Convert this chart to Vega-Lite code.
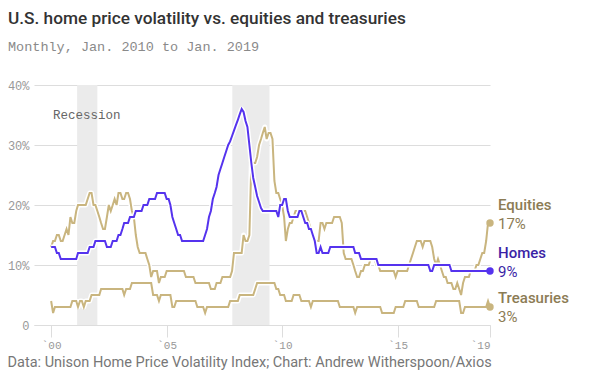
{
"$schema": "https://vega.github.io/schema/vega-lite/v6.json",
"width": 456, "height": 240,
"autosize": "none",
"padding": {"left": 34, "top": 85, "right": 108, "bottom": 62},
"background": "white",
"title": {"text": "U.S. home price volatility vs. equities and treasuries", "subtitle": "Monthly, Jan. 2010 to Jan. 2019", "anchor": "start", "frame": "group", "dx": -26, "offset": 26, "font": "Roboto", "fontSize": 17.25, "fontWeight": 500, "color": "#333333", "subtitleFont": "Liberation Mono", "subtitleFontSize": 13.5, "subtitleColor": "#8a8a8a", "subtitlePadding": 12},
"config": {"view": {"stroke": null}},
"datasets": {
"homes": [
{"d":"2000-01","v":13},{"d":"2000-02","v":13},{"d":"2000-03","v":13},{"d":"2000-04","v":12},{"d":"2000-05","v":12},{"d":"2000-06","v":11},{"d":"2000-07","v":11},{"d":"2000-08","v":11},{"d":"2000-09","v":11},{"d":"2000-10","v":11},{"d":"2000-11","v":11},{"d":"2000-12","v":11},
{"d":"2001-01","v":11},{"d":"2001-02","v":11},{"d":"2001-03","v":12},{"d":"2001-04","v":12},{"d":"2001-05","v":12},{"d":"2001-06","v":12},{"d":"2001-07","v":12},{"d":"2001-08","v":12},{"d":"2001-09","v":13},{"d":"2001-10","v":13},{"d":"2001-11","v":13},{"d":"2001-12","v":14},
{"d":"2002-01","v":14},{"d":"2002-02","v":14},{"d":"2002-03","v":14},{"d":"2002-04","v":14},{"d":"2002-05","v":14},{"d":"2002-06","v":13},{"d":"2002-07","v":13},{"d":"2002-08","v":13},{"d":"2002-09","v":14},{"d":"2002-10","v":14},{"d":"2002-11","v":14},{"d":"2002-12","v":15},
{"d":"2003-01","v":15},{"d":"2003-02","v":16},{"d":"2003-03","v":17},{"d":"2003-04","v":17},{"d":"2003-05","v":17},{"d":"2003-06","v":18},{"d":"2003-07","v":18},{"d":"2003-08","v":18},{"d":"2003-09","v":19},{"d":"2003-10","v":19},{"d":"2003-11","v":19},{"d":"2003-12","v":19},
{"d":"2004-01","v":20},{"d":"2004-02","v":20},{"d":"2004-03","v":20},{"d":"2004-04","v":21},{"d":"2004-05","v":21},{"d":"2004-06","v":21},{"d":"2004-07","v":21},{"d":"2004-08","v":22},{"d":"2004-09","v":22},{"d":"2004-10","v":22},{"d":"2004-11","v":22},{"d":"2004-12","v":22},
{"d":"2005-01","v":21},{"d":"2005-02","v":21},{"d":"2005-03","v":20},{"d":"2005-04","v":18},{"d":"2005-05","v":17},{"d":"2005-06","v":16},{"d":"2005-07","v":15},{"d":"2005-08","v":15},{"d":"2005-09","v":14},{"d":"2005-10","v":14},{"d":"2005-11","v":14},{"d":"2005-12","v":14},
{"d":"2006-01","v":14},{"d":"2006-02","v":14},{"d":"2006-03","v":14},{"d":"2006-04","v":14},{"d":"2006-05","v":14},{"d":"2006-06","v":14},{"d":"2006-07","v":14},{"d":"2006-08","v":14},{"d":"2006-09","v":15},{"d":"2006-10","v":16},{"d":"2006-11","v":18},{"d":"2006-12","v":19},
{"d":"2007-01","v":21},{"d":"2007-02","v":22},{"d":"2007-03","v":23},{"d":"2007-04","v":25},{"d":"2007-05","v":26},{"d":"2007-06","v":27},{"d":"2007-07","v":28},{"d":"2007-08","v":29},{"d":"2007-09","v":30},{"d":"2007-10","v":30.6},{"d":"2007-11","v":31.5},{"d":"2007-12","v":32.4},
{"d":"2008-01","v":33.3},{"d":"2008-02","v":34.2},{"d":"2008-03","v":35.1},{"d":"2008-04","v":36},{"d":"2008-05","v":35.5},{"d":"2008-06","v":34},{"d":"2008-07","v":33},{"d":"2008-08","v":30},{"d":"2008-09","v":27},{"d":"2008-10","v":24.5},{"d":"2008-11","v":23},{"d":"2008-12","v":21.5},
{"d":"2009-01","v":20.5},{"d":"2009-02","v":19.5},{"d":"2009-03","v":19},{"d":"2009-04","v":19},{"d":"2009-05","v":19},{"d":"2009-06","v":19},{"d":"2009-07","v":19},{"d":"2009-08","v":19},{"d":"2009-09","v":19},{"d":"2009-10","v":19},{"d":"2009-11","v":18},{"d":"2009-12","v":20},
{"d":"2010-01","v":20},{"d":"2010-02","v":21},{"d":"2010-03","v":21},{"d":"2010-04","v":19},{"d":"2010-05","v":18},{"d":"2010-06","v":18},{"d":"2010-07","v":18},{"d":"2010-08","v":18},{"d":"2010-09","v":18},{"d":"2010-10","v":19},{"d":"2010-11","v":19},{"d":"2010-12","v":18},
{"d":"2011-01","v":17},{"d":"2011-02","v":17},{"d":"2011-03","v":16},{"d":"2011-04","v":16},{"d":"2011-05","v":15},{"d":"2011-06","v":14},{"d":"2011-07","v":12},{"d":"2011-08","v":12},{"d":"2011-09","v":13},{"d":"2011-10","v":12},{"d":"2011-11","v":12},{"d":"2011-12","v":12},
{"d":"2012-01","v":12},{"d":"2012-02","v":13},{"d":"2012-03","v":13},{"d":"2012-04","v":13},{"d":"2012-05","v":13},{"d":"2012-06","v":13},{"d":"2012-07","v":13},{"d":"2012-08","v":13},{"d":"2012-09","v":13},{"d":"2012-10","v":13},{"d":"2012-11","v":13},{"d":"2012-12","v":13},
{"d":"2013-01","v":13},{"d":"2013-02","v":13},{"d":"2013-03","v":12},{"d":"2013-04","v":12},{"d":"2013-05","v":12},{"d":"2013-06","v":11},{"d":"2013-07","v":11},{"d":"2013-08","v":11},{"d":"2013-09","v":11},{"d":"2013-10","v":11},{"d":"2013-11","v":11},{"d":"2013-12","v":11},
{"d":"2014-01","v":11},{"d":"2014-02","v":11},{"d":"2014-03","v":10},{"d":"2014-04","v":10},{"d":"2014-05","v":10},{"d":"2014-06","v":10},{"d":"2014-07","v":10},{"d":"2014-08","v":10},{"d":"2014-09","v":10},{"d":"2014-10","v":10},{"d":"2014-11","v":10},{"d":"2014-12","v":10},
{"d":"2015-01","v":10},{"d":"2015-02","v":10},{"d":"2015-03","v":10},{"d":"2015-04","v":10},{"d":"2015-05","v":10},{"d":"2015-06","v":10},{"d":"2015-07","v":10},{"d":"2015-08","v":10},{"d":"2015-09","v":10},{"d":"2015-10","v":10},{"d":"2015-11","v":10},{"d":"2015-12","v":10},
{"d":"2016-01","v":10},{"d":"2016-02","v":10},{"d":"2016-03","v":10},{"d":"2016-04","v":10},{"d":"2016-05","v":10},{"d":"2016-06","v":9},{"d":"2016-07","v":9},{"d":"2016-08","v":10},{"d":"2016-09","v":10},{"d":"2016-10","v":10},{"d":"2016-11","v":10},{"d":"2016-12","v":10},
{"d":"2017-01","v":10},{"d":"2017-02","v":10},{"d":"2017-03","v":10},{"d":"2017-04","v":10},{"d":"2017-05","v":9},{"d":"2017-06","v":9},{"d":"2017-07","v":9},{"d":"2017-08","v":9},{"d":"2017-09","v":9},{"d":"2017-10","v":9},{"d":"2017-11","v":9},{"d":"2017-12","v":9},
{"d":"2018-01","v":9},{"d":"2018-02","v":9},{"d":"2018-03","v":9},{"d":"2018-04","v":9},{"d":"2018-05","v":9},{"d":"2018-06","v":9},{"d":"2018-07","v":9},{"d":"2018-08","v":9},{"d":"2018-09","v":9},{"d":"2018-10","v":9},{"d":"2018-11","v":9},{"d":"2018-12","v":9},
{"d":"2019-01","v":9}
],
"equities": [
{"d":"2000-01","v":13},{"d":"2000-02","v":14},{"d":"2000-03","v":14},{"d":"2000-04","v":15},{"d":"2000-05","v":15},{"d":"2000-06","v":14},{"d":"2000-07","v":14},{"d":"2000-08","v":15},{"d":"2000-09","v":16},{"d":"2000-10","v":15},{"d":"2000-11","v":18},{"d":"2000-12","v":17},
{"d":"2001-01","v":17},{"d":"2001-02","v":19},{"d":"2001-03","v":20},{"d":"2001-04","v":20},{"d":"2001-05","v":20},{"d":"2001-06","v":20},{"d":"2001-07","v":20},{"d":"2001-08","v":21},{"d":"2001-09","v":22},{"d":"2001-10","v":22},{"d":"2001-11","v":20},{"d":"2001-12","v":20},
{"d":"2002-01","v":19},{"d":"2002-02","v":18},{"d":"2002-03","v":17},{"d":"2002-04","v":16},{"d":"2002-05","v":16},{"d":"2002-06","v":18},{"d":"2002-07","v":20},{"d":"2002-08","v":19},{"d":"2002-09","v":20},{"d":"2002-10","v":21},{"d":"2002-11","v":20},{"d":"2002-12","v":22},
{"d":"2003-01","v":22},{"d":"2003-02","v":21},{"d":"2003-03","v":21},{"d":"2003-04","v":22},{"d":"2003-05","v":22},{"d":"2003-06","v":21},{"d":"2003-07","v":19},{"d":"2003-08","v":18},{"d":"2003-09","v":15},{"d":"2003-10","v":13},{"d":"2003-11","v":12},{"d":"2003-12","v":12},
{"d":"2004-01","v":12},{"d":"2004-02","v":12},{"d":"2004-03","v":11},{"d":"2004-04","v":10},{"d":"2004-05","v":8},{"d":"2004-06","v":9},{"d":"2004-07","v":9},{"d":"2004-08","v":9},{"d":"2004-09","v":7},{"d":"2004-10","v":8},{"d":"2004-11","v":8},{"d":"2004-12","v":8},
{"d":"2005-01","v":9},{"d":"2005-02","v":9},{"d":"2005-03","v":9},{"d":"2005-04","v":9},{"d":"2005-05","v":9},{"d":"2005-06","v":9},{"d":"2005-07","v":9},{"d":"2005-08","v":9},{"d":"2005-09","v":9},{"d":"2005-10","v":9},{"d":"2005-11","v":8},{"d":"2005-12","v":8},
{"d":"2006-01","v":8},{"d":"2006-02","v":8},{"d":"2006-03","v":8},{"d":"2006-04","v":7},{"d":"2006-05","v":7},{"d":"2006-06","v":7},{"d":"2006-07","v":7},{"d":"2006-08","v":7},{"d":"2006-09","v":7},{"d":"2006-10","v":7},{"d":"2006-11","v":7},{"d":"2006-12","v":6},
{"d":"2007-01","v":6},{"d":"2007-02","v":6},{"d":"2007-03","v":7},{"d":"2007-04","v":7},{"d":"2007-05","v":7},{"d":"2007-06","v":8},{"d":"2007-07","v":8},{"d":"2007-08","v":8},{"d":"2007-09","v":8},{"d":"2007-10","v":8},{"d":"2007-11","v":9},{"d":"2007-12","v":12},
{"d":"2008-01","v":12},{"d":"2008-02","v":12},{"d":"2008-03","v":12},{"d":"2008-04","v":12},{"d":"2008-05","v":15},{"d":"2008-06","v":14},{"d":"2008-07","v":14},{"d":"2008-08","v":15},{"d":"2008-09","v":27},{"d":"2008-10","v":27},{"d":"2008-11","v":27},{"d":"2008-12","v":28},
{"d":"2009-01","v":30},{"d":"2009-02","v":31},{"d":"2009-03","v":32},{"d":"2009-04","v":33},{"d":"2009-05","v":31},{"d":"2009-06","v":32},{"d":"2009-07","v":32},{"d":"2009-08","v":31},{"d":"2009-09","v":24},{"d":"2009-10","v":22},{"d":"2009-11","v":22},{"d":"2009-12","v":21},
{"d":"2010-01","v":20},{"d":"2010-02","v":18},{"d":"2010-03","v":14},{"d":"2010-04","v":16},{"d":"2010-05","v":17},{"d":"2010-06","v":17},{"d":"2010-07","v":18},{"d":"2010-08","v":19},{"d":"2010-09","v":19},{"d":"2010-10","v":19},{"d":"2010-11","v":19},{"d":"2010-12","v":19},
{"d":"2011-01","v":19},{"d":"2011-02","v":18},{"d":"2011-03","v":17},{"d":"2011-04","v":16},{"d":"2011-05","v":15},{"d":"2011-06","v":14},{"d":"2011-07","v":14},{"d":"2011-08","v":14},{"d":"2011-09","v":17},{"d":"2011-10","v":17},{"d":"2011-11","v":16},{"d":"2011-12","v":17},
{"d":"2012-01","v":17},{"d":"2012-02","v":17},{"d":"2012-03","v":17},{"d":"2012-04","v":18},{"d":"2012-05","v":18},{"d":"2012-06","v":18},{"d":"2012-07","v":18},{"d":"2012-08","v":17},{"d":"2012-09","v":12},{"d":"2012-10","v":11},{"d":"2012-11","v":11},{"d":"2012-12","v":11},
{"d":"2013-01","v":11},{"d":"2013-02","v":10},{"d":"2013-03","v":9},{"d":"2013-04","v":8},{"d":"2013-05","v":8},{"d":"2013-06","v":9},{"d":"2013-07","v":9},{"d":"2013-08","v":10},{"d":"2013-09","v":10},{"d":"2013-10","v":10},{"d":"2013-11","v":11},{"d":"2013-12","v":11},
{"d":"2014-01","v":11},{"d":"2014-02","v":10},{"d":"2014-03","v":10},{"d":"2014-04","v":9},{"d":"2014-05","v":9},{"d":"2014-06","v":9},{"d":"2014-07","v":9},{"d":"2014-08","v":9},{"d":"2014-09","v":9},{"d":"2014-10","v":9},{"d":"2014-11","v":9},{"d":"2014-12","v":8},
{"d":"2015-01","v":9},{"d":"2015-02","v":9},{"d":"2015-03","v":9},{"d":"2015-04","v":9},{"d":"2015-05","v":9},{"d":"2015-06","v":9},{"d":"2015-07","v":10},{"d":"2015-08","v":11},{"d":"2015-09","v":12},{"d":"2015-10","v":13},{"d":"2015-11","v":14},{"d":"2015-12","v":14},
{"d":"2016-01","v":14},{"d":"2016-02","v":13},{"d":"2016-03","v":14},{"d":"2016-04","v":14},{"d":"2016-05","v":14},{"d":"2016-06","v":14},{"d":"2016-07","v":13},{"d":"2016-08","v":11},{"d":"2016-09","v":10},{"d":"2016-10","v":11},{"d":"2016-11","v":10},{"d":"2016-12","v":9},
{"d":"2017-01","v":8},{"d":"2017-02","v":8},{"d":"2017-03","v":7},{"d":"2017-04","v":7},{"d":"2017-05","v":7},{"d":"2017-06","v":6},{"d":"2017-07","v":6},{"d":"2017-08","v":7},{"d":"2017-09","v":6},{"d":"2017-10","v":5},{"d":"2017-11","v":7},{"d":"2017-12","v":8},
{"d":"2018-01","v":8},{"d":"2018-02","v":8},{"d":"2018-03","v":9},{"d":"2018-04","v":9},{"d":"2018-05","v":9},{"d":"2018-06","v":10},{"d":"2018-07","v":10},{"d":"2018-08","v":11},{"d":"2018-09","v":12},{"d":"2018-10","v":12},{"d":"2018-11","v":14},{"d":"2018-12","v":17},
{"d":"2019-01","v":17}
],
"treasuries": [
{"d":"2000-01","v":4},{"d":"2000-02","v":2},{"d":"2000-03","v":3},{"d":"2000-04","v":3},{"d":"2000-05","v":3},{"d":"2000-06","v":3},{"d":"2000-07","v":3},{"d":"2000-08","v":3},{"d":"2000-09","v":3},{"d":"2000-10","v":3},{"d":"2000-11","v":3},{"d":"2000-12","v":4},
{"d":"2001-01","v":4},{"d":"2001-02","v":4},{"d":"2001-03","v":3},{"d":"2001-04","v":4},{"d":"2001-05","v":4},{"d":"2001-06","v":3},{"d":"2001-07","v":4},{"d":"2001-08","v":4},{"d":"2001-09","v":4},{"d":"2001-10","v":5},{"d":"2001-11","v":5},{"d":"2001-12","v":5},
{"d":"2002-01","v":5},{"d":"2002-02","v":5},{"d":"2002-03","v":6},{"d":"2002-04","v":6},{"d":"2002-05","v":6},{"d":"2002-06","v":6},{"d":"2002-07","v":6},{"d":"2002-08","v":6},{"d":"2002-09","v":6},{"d":"2002-10","v":6},{"d":"2002-11","v":6},{"d":"2002-12","v":6},
{"d":"2003-01","v":6},{"d":"2003-02","v":6},{"d":"2003-03","v":5},{"d":"2003-04","v":6},{"d":"2003-05","v":6},{"d":"2003-06","v":6},{"d":"2003-07","v":7},{"d":"2003-08","v":7},{"d":"2003-09","v":7},{"d":"2003-10","v":7},{"d":"2003-11","v":7},{"d":"2003-12","v":7},
{"d":"2004-01","v":7},{"d":"2004-02","v":7},{"d":"2004-03","v":7},{"d":"2004-04","v":7},{"d":"2004-05","v":7},{"d":"2004-06","v":5},{"d":"2004-07","v":5},{"d":"2004-08","v":5},{"d":"2004-09","v":4},{"d":"2004-10","v":5},{"d":"2004-11","v":5},{"d":"2004-12","v":5},
{"d":"2005-01","v":5},{"d":"2005-02","v":5},{"d":"2005-03","v":5},{"d":"2005-04","v":3},{"d":"2005-05","v":3},{"d":"2005-06","v":4},{"d":"2005-07","v":4},{"d":"2005-08","v":4},{"d":"2005-09","v":4},{"d":"2005-10","v":4},{"d":"2005-11","v":4},{"d":"2005-12","v":4},
{"d":"2006-01","v":4},{"d":"2006-02","v":4},{"d":"2006-03","v":4},{"d":"2006-04","v":4},{"d":"2006-05","v":3},{"d":"2006-06","v":3},{"d":"2006-07","v":3},{"d":"2006-08","v":3},{"d":"2006-09","v":2},{"d":"2006-10","v":3},{"d":"2006-11","v":3},{"d":"2006-12","v":3},
{"d":"2007-01","v":3},{"d":"2007-02","v":3},{"d":"2007-03","v":3},{"d":"2007-04","v":3},{"d":"2007-05","v":3},{"d":"2007-06","v":3},{"d":"2007-07","v":3},{"d":"2007-08","v":3},{"d":"2007-09","v":3},{"d":"2007-10","v":4},{"d":"2007-11","v":4},{"d":"2007-12","v":4},
{"d":"2008-01","v":4},{"d":"2008-02","v":4},{"d":"2008-03","v":5},{"d":"2008-04","v":5},{"d":"2008-05","v":5},{"d":"2008-06","v":5},{"d":"2008-07","v":5},{"d":"2008-08","v":5},{"d":"2008-09","v":5},{"d":"2008-10","v":5},{"d":"2008-11","v":6},{"d":"2008-12","v":7},
{"d":"2009-01","v":7},{"d":"2009-02","v":7},{"d":"2009-03","v":7},{"d":"2009-04","v":7},{"d":"2009-05","v":7},{"d":"2009-06","v":7},{"d":"2009-07","v":7},{"d":"2009-08","v":7},{"d":"2009-09","v":7},{"d":"2009-10","v":6},{"d":"2009-11","v":6},{"d":"2009-12","v":5},
{"d":"2010-01","v":5},{"d":"2010-02","v":5},{"d":"2010-03","v":4},{"d":"2010-04","v":4},{"d":"2010-05","v":4},{"d":"2010-06","v":4},{"d":"2010-07","v":5},{"d":"2010-08","v":5},{"d":"2010-09","v":5},{"d":"2010-10","v":5},{"d":"2010-11","v":4},{"d":"2010-12","v":4},
{"d":"2011-01","v":4},{"d":"2011-02","v":4},{"d":"2011-03","v":4},{"d":"2011-04","v":3},{"d":"2011-05","v":4},{"d":"2011-06","v":4},{"d":"2011-07","v":4},{"d":"2011-08","v":4},{"d":"2011-09","v":4},{"d":"2011-10","v":4},{"d":"2011-11","v":4},{"d":"2011-12","v":4},
{"d":"2012-01","v":4},{"d":"2012-02","v":4},{"d":"2012-03","v":4},{"d":"2012-04","v":4},{"d":"2012-05","v":4},{"d":"2012-06","v":4},{"d":"2012-07","v":3},{"d":"2012-08","v":3},{"d":"2012-09","v":3},{"d":"2012-10","v":3},{"d":"2012-11","v":3},{"d":"2012-12","v":3},
{"d":"2013-01","v":3},{"d":"2013-02","v":3},{"d":"2013-03","v":2},{"d":"2013-04","v":3},{"d":"2013-05","v":3},{"d":"2013-06","v":3},{"d":"2013-07","v":3},{"d":"2013-08","v":3},{"d":"2013-09","v":3},{"d":"2013-10","v":3},{"d":"2013-11","v":3},{"d":"2013-12","v":3},
{"d":"2014-01","v":3},{"d":"2014-02","v":3},{"d":"2014-03","v":3},{"d":"2014-04","v":3},{"d":"2014-05","v":2},{"d":"2014-06","v":2},{"d":"2014-07","v":2},{"d":"2014-08","v":2},{"d":"2014-09","v":2},{"d":"2014-10","v":2},{"d":"2014-11","v":2},{"d":"2014-12","v":3},
{"d":"2015-01","v":3},{"d":"2015-02","v":3},{"d":"2015-03","v":3},{"d":"2015-04","v":3},{"d":"2015-05","v":4},{"d":"2015-06","v":4},{"d":"2015-07","v":4},{"d":"2015-08","v":4},{"d":"2015-09","v":4},{"d":"2015-10","v":4},{"d":"2015-11","v":4},{"d":"2015-12","v":3},
{"d":"2016-01","v":3},{"d":"2016-02","v":3},{"d":"2016-03","v":3},{"d":"2016-04","v":3},{"d":"2016-05","v":3},{"d":"2016-06","v":3},{"d":"2016-07","v":3},{"d":"2016-08","v":3},{"d":"2016-09","v":4},{"d":"2016-10","v":4},{"d":"2016-11","v":4},{"d":"2016-12","v":4},
{"d":"2017-01","v":4},{"d":"2017-02","v":4},{"d":"2017-03","v":4},{"d":"2017-04","v":4},{"d":"2017-05","v":4},{"d":"2017-06","v":4},{"d":"2017-07","v":4},{"d":"2017-08","v":4},{"d":"2017-09","v":4},{"d":"2017-10","v":2},{"d":"2017-11","v":2},{"d":"2017-12","v":3},
{"d":"2018-01","v":3},{"d":"2018-02","v":3},{"d":"2018-03","v":3},{"d":"2018-04","v":3},{"d":"2018-05","v":3},{"d":"2018-06","v":3},{"d":"2018-07","v":3},{"d":"2018-08","v":3},{"d":"2018-09","v":3},{"d":"2018-10","v":3},{"d":"2018-11","v":3},{"d":"2018-12","v":4},
{"d":"2019-01","v":3}
]
},
"layer": [
{"data": {"values": [{"start": "2001-02-15", "end": "2002-01-01"}, {"start": "2007-11-05", "end": "2009-06-15"}]},
 "mark": {"type": "rect", "color": "#ebebeb"},
 "encoding": {
  "x": {"field": "start", "type": "temporal",
   "scale": {"type": "utc", "domain": [{"year": 1999, "month": 4, "date": 5, "utc": true}, {"year": 2019, "month": 1, "date": 1, "utc": true}]},
   "axis": {"values": [{"year": 2000, "month": 1, "date": 1, "utc": true}, {"year": 2005, "month": 1, "date": 1, "utc": true}, {"year": 2010, "month": 1, "date": 1, "utc": true}, {"year": 2015, "month": 1, "date": 1, "utc": true}, {"year": 2019, "month": 1, "date": 1, "utc": true}],
    "labelExpr": "'`' + utcFormat(datum.value, '%y')", "grid": false, "domainColor": "#dddddd", "tickColor": "#dddddd", "tickSize": 12,
    "labelFont": "Liberation Mono", "labelFontSize": 11, "labelColor": "#999999", "labelPadding": 2,
    "title": "Data: Unison Home Price Volatility Index; Chart: Andrew Witherspoon/Axios",
    "titleFont": "Roboto", "titleFontSize": 14.5, "titleFontWeight": "normal", "titleColor": "#777777",
    "titleAnchor": "start", "titleAlign": "left", "titleBaseline": "middle", "titleX": -27, "titleY": 37}},
  "x2": {"field": "end"}}},
{"data": {"values": [{"d": "2000-02-01", "v": 35, "t": "Recession"}]},
 "mark": {"type": "text", "align": "left", "baseline": "middle", "font": "Liberation Mono", "fontSize": 12.5, "color": "#666666"},
 "encoding": {"x": {"field": "d", "type": "temporal"}, "y": {"field": "v", "type": "quantitative"}, "text": {"field": "t"}}},
{"data": {"name": "equities"},
 "layer": [
  {"mark": {"type": "line", "color": "white", "strokeWidth": 5, "strokeJoin": "round"},
   "encoding": {"x": {"field": "d", "type": "temporal"}, "y": {"field": "v", "type": "quantitative",
    "scale": {"domain": [0, 40], "nice": false},
    "axis": {"values": [0, 10, 20, 30, 40], "labelExpr": "datum.value == 0 ? '0' : datum.value + '%'", "domain": false, "ticks": false, "grid": true, "gridColor": "#dddddd", "labelFont": "Liberation Mono", "labelFontSize": 12, "labelColor": "#999999", "labelPadding": 5, "title": null}}}},
  {"mark": {"type": "line", "color": "#c9b57f", "strokeWidth": 2},
   "encoding": {"x": {"field": "d", "type": "temporal"}, "y": {"field": "v", "type": "quantitative"}}},
  {"transform": [{"filter": "utcyear(toDate(datum.d)) == 2019"}],
   "mark": {"type": "point", "filled": true, "size": 55, "color": "#c9b57f", "opacity": 1},
   "encoding": {"x": {"field": "d", "type": "temporal"}, "y": {"field": "v", "type": "quantitative"}}},
  {"transform": [{"filter": "utcyear(toDate(datum.d)) == 2019"}],
   "mark": {"type": "text", "text": "Equities", "align": "left", "baseline": "middle", "dx": 8, "dy": -18, "font": "Roboto", "fontSize": 15, "fontWeight": 500, "color": "#8c7c55"},
   "encoding": {"x": {"field": "d", "type": "temporal"}, "y": {"field": "v", "type": "quantitative"}}},
  {"transform": [{"filter": "utcyear(toDate(datum.d)) == 2019"}],
   "mark": {"type": "text", "text": {"expr": "datum.v + '%'"}, "align": "left", "baseline": "middle", "dx": 8, "dy": 1, "font": "Roboto", "fontSize": 15, "color": "#8c7c55"},
   "encoding": {"x": {"field": "d", "type": "temporal"}, "y": {"field": "v", "type": "quantitative"}}}
 ]},
{"data": {"name": "treasuries"},
 "layer": [
  {"mark": {"type": "line", "color": "white", "strokeWidth": 5, "strokeJoin": "round"},
   "encoding": {"x": {"field": "d", "type": "temporal"}, "y": {"field": "v", "type": "quantitative"}}},
  {"mark": {"type": "line", "color": "#c9b57f", "strokeWidth": 2},
   "encoding": {"x": {"field": "d", "type": "temporal"}, "y": {"field": "v", "type": "quantitative"}}},
  {"transform": [{"filter": "utcyear(toDate(datum.d)) == 2019"}],
   "mark": {"type": "point", "filled": true, "size": 55, "color": "#c9b57f", "opacity": 1},
   "encoding": {"x": {"field": "d", "type": "temporal"}, "y": {"field": "v", "type": "quantitative"}}},
  {"transform": [{"filter": "utcyear(toDate(datum.d)) == 2019"}],
   "mark": {"type": "text", "text": "Treasuries", "align": "left", "baseline": "middle", "dx": 8, "dy": -9, "font": "Roboto", "fontSize": 15, "fontWeight": 500, "color": "#8c7c55"},
   "encoding": {"x": {"field": "d", "type": "temporal"}, "y": {"field": "v", "type": "quantitative"}}},
  {"transform": [{"filter": "utcyear(toDate(datum.d)) == 2019"}],
   "mark": {"type": "text", "text": {"expr": "datum.v + '%'"}, "align": "left", "baseline": "middle", "dx": 8, "dy": 10, "font": "Roboto", "fontSize": 15, "color": "#8c7c55"},
   "encoding": {"x": {"field": "d", "type": "temporal"}, "y": {"field": "v", "type": "quantitative"}}}
 ]},
{"data": {"name": "homes"},
 "layer": [
  {"mark": {"type": "line", "color": "white", "strokeWidth": 5, "strokeJoin": "round"},
   "encoding": {"x": {"field": "d", "type": "temporal"}, "y": {"field": "v", "type": "quantitative"}}},
  {"mark": {"type": "line", "color": "#5533ee", "strokeWidth": 2},
   "encoding": {"x": {"field": "d", "type": "temporal"}, "y": {"field": "v", "type": "quantitative"}}},
  {"transform": [{"filter": "utcyear(toDate(datum.d)) == 2019"}],
   "mark": {"type": "point", "filled": true, "size": 55, "color": "#5533ee", "opacity": 1},
   "encoding": {"x": {"field": "d", "type": "temporal"}, "y": {"field": "v", "type": "quantitative"}}},
  {"transform": [{"filter": "utcyear(toDate(datum.d)) == 2019"}],
   "mark": {"type": "text", "text": "Homes", "align": "left", "baseline": "middle", "dx": 8, "dy": -18, "font": "Roboto", "fontSize": 15, "fontWeight": 500, "color": "#3b1fa6"},
   "encoding": {"x": {"field": "d", "type": "temporal"}, "y": {"field": "v", "type": "quantitative"}}},
  {"transform": [{"filter": "utcyear(toDate(datum.d)) == 2019"}],
   "mark": {"type": "text", "text": {"expr": "datum.v + '%'"}, "align": "left", "baseline": "middle", "dx": 8, "dy": 1, "font": "Roboto", "fontSize": 15, "color": "#3b1fa6"},
   "encoding": {"x": {"field": "d", "type": "temporal"}, "y": {"field": "v", "type": "quantitative"}}}
 ]}
]
}
